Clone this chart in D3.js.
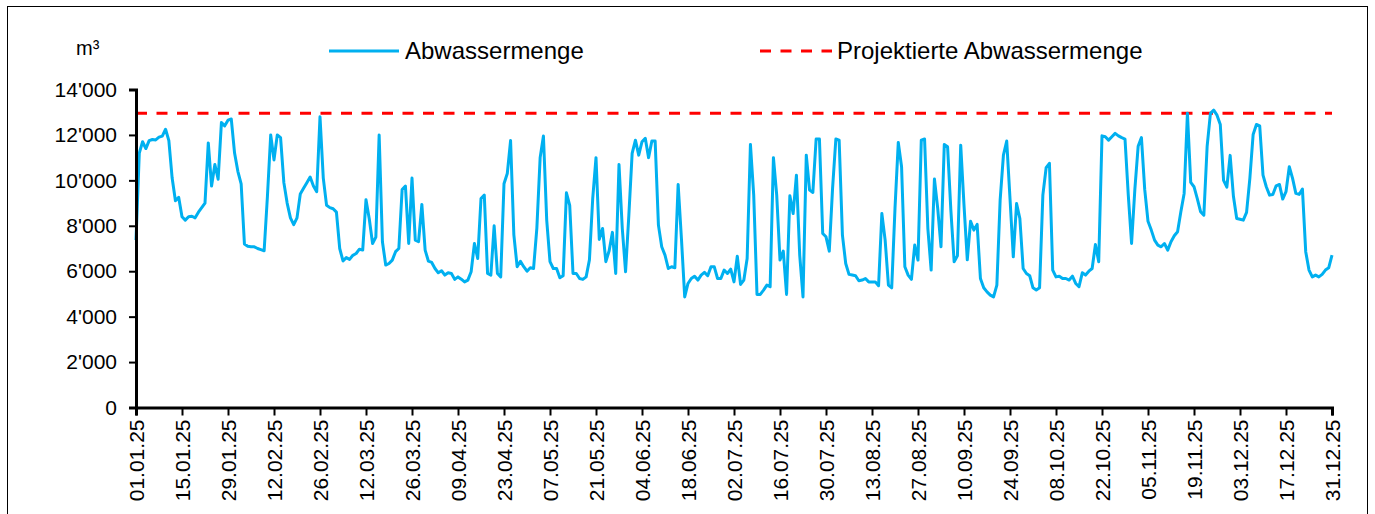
<!DOCTYPE html>
<html>
<head>
<meta charset="utf-8">
<script src="https://cdn.jsdelivr.net/npm/d3@7"></script>
<style>
  body { margin: 0; background: #fff; }
  svg { display: block; font-family: "Liberation Sans", Arial, sans-serif; }
</style>
</head>
<body>
<div id="chart"></div>
<script>
// Daily sewage volume 2025 (m³)
var startDate = "2025-01-01";
var values = [
  7370, 11200, 11700, 11400, 11750, 11800, 11780, 11900, 11950, 12250,
  11750, 10100, 9100, 9250, 8400, 8250, 8400, 8420, 8350, 8600,
  8800, 9000, 11650, 9750, 10700, 10050, 12550, 12400, 12650, 12700,
  11200, 10400, 9850, 7200, 7100, 7080, 7075, 7000, 6950, 6900,
  9300, 12000, 10900, 12000, 11880, 9900, 9000, 8350, 8050, 8350,
  9400, 9650, 9900, 10150, 9750, 9500, 12800, 10100, 8900, 8800,
  8750, 8600, 7000, 6450, 6600, 6520, 6700, 6780, 6970, 6930,
  9150, 8300, 7220, 7500, 12000, 7300, 6270, 6340, 6490, 6860,
  7000, 9600, 9750, 7220, 10100, 7370, 7300, 8940, 6930, 6440,
  6385, 6120, 5930, 6020, 5830, 5930, 5900, 5640, 5750, 5650,
  5530, 5610, 5975, 7220, 6560, 9200, 9350, 5900, 5830, 8000,
  5900, 5750, 9850, 10300, 11750, 7600, 6200, 6440, 6200, 6000,
  6150, 6120, 7900, 11000, 11950, 8250, 6420, 6120, 6120, 5710,
  5800, 9450, 8900, 5900, 5900, 5680, 5640, 5750, 6500, 9200,
  11000, 7400, 7880, 6420, 6900, 7710, 5900, 10700, 7880, 5975,
  8470, 11190, 11770, 11110, 11700, 11850, 11000, 11730, 11730, 8030,
  7075, 6710, 6120, 6195, 6150, 9820, 7440, 4870, 5460, 5680,
  5780, 5610, 5830, 5950, 5800, 6195, 6195, 5680, 5680, 6050,
  5900, 6090, 5530, 6660, 5420, 5610, 6560, 11580, 9350, 4980,
  4980, 5170, 5390, 5315, 11000, 9350, 6490, 6885, 4980, 9320,
  8540, 10230, 6710, 4870, 11110, 9570, 9470, 11820, 11820, 7660,
  7515, 6885, 9645, 11820, 11770, 7590, 6340, 5860, 5830, 5800,
  5580, 5610, 5680, 5530, 5530, 5530, 5360, 8540, 7370, 5390,
  5270, 8765, 11670, 10600, 6195, 5830, 5640, 7150, 6490, 11770,
  11820, 7880, 6050, 10060, 8765, 7075, 11580, 11480, 8690, 6415,
  6680, 11550, 8910, 6500, 8200, 7810, 8060, 5680, 5270, 5090,
  4950, 4870, 5390, 9130, 11110, 11730, 9200, 6635, 8980, 8320,
  6120, 5900, 5800, 5270, 5170, 5270, 9350, 10555, 10750, 6050,
  5750, 5780, 5680, 5680, 5610, 5780, 5460, 5315, 5930, 5830,
  6000, 6120, 7180, 6415, 11960, 11920, 11770, 11920, 12070, 11960,
  11880, 11820, 9350, 7220, 9600, 11500, 11880, 9600, 8200, 7810,
  7370, 7150, 7075, 7220, 6930, 7300, 7560, 7740, 8620, 9425,
  12950, 9910, 9720, 9200, 8620, 8470, 11500, 12950, 13090, 12870,
  12460, 10000, 9700, 11100, 9300, 8320, 8290, 8250, 8590, 10085,
  12020, 12460, 12400, 10230, 9720, 9350, 9380, 9760, 9820, 9175,
  9500, 10600, 10085, 9425, 9380, 9615, 6860, 6050, 5750, 5830,
  5750, 5860, 6050, 6150, 6710
];

// Projected sewage volume (constant)
var projected = 12950;

// Tick labels on the x axis (every 14 days)
var tickDates = [
  "01.01.25", "15.01.25", "29.01.25", "12.02.25", "26.02.25", "12.03.25",
  "26.03.25", "09.04.25", "23.04.25", "07.05.25", "21.05.25", "04.06.25",
  "18.06.25", "02.07.25", "16.07.25", "30.07.25", "13.08.25", "27.08.25",
  "10.09.25", "24.09.25", "08.10.25", "22.10.25", "05.11.25", "19.11.25",
  "03.12.25", "17.12.25", "31.12.25"
];
var yTicks = [0, 2000, 4000, 6000, 8000, 10000, 12000, 14000];

var seriesNames = ["Abwassermenge", "Projektierte Abwassermenge"];

var svgWidth = 1375;
var svgHeight = 514;

var parseDate = d3.utcParse("%d.%m.%y");
var formatDate = d3.utcFormat("%d.%m.%y");
var day0 = d3.utcParse("%Y-%m-%d")(startDate);

var data = values.map(function(v, i) {
  return { date: d3.utcDay.offset(day0, i), value: v };
});

var svg = d3.select("#chart")
  .append("svg")
  .attr("width", svgWidth)
  .attr("height", svgHeight);

svg.append("rect")
  .attr("width", svgWidth)
  .attr("height", svgHeight)
  .attr("fill", "#fff");

// outer frame (bottom edge is cut off in the picture)
svg.append("rect")
  .attr("x", 7.5)
  .attr("y", 6.5)
  .attr("width", 1360)
  .attr("height", 530)
  .attr("fill", "none")
  .attr("stroke", "#000")
  .attr("stroke-width", 1);

var xScale = d3.scaleUtc()
  .domain([data[0].date, data[data.length - 1].date])
  .range([136, 1332]);

var yScale = d3.scaleLinear()
  .domain([0, 14000])
  .range([407.5, 89.5]);

var fmt = d3.formatLocale({ decimal: ".", thousands: "'", grouping: [3], currency: ["", ""] }).format(",");

// projected line
svg.append("line")
  .attr("x1", xScale.range()[0])
  .attr("x2", xScale.range()[1])
  .attr("y1", yScale(projected))
  .attr("y2", yScale(projected))
  .attr("stroke", "#ff0000")
  .attr("stroke-width", 3)
  .attr("stroke-dasharray", "11,9.5");

// sewage line
var line = d3.line()
  .x(d => xScale(d.date))
  .y(d => yScale(d.value));

svg.append("path")
  .datum(data)
  .attr("d", line)
  .attr("fill", "none")
  .attr("stroke", "#00b0f0")
  .attr("stroke-width", 3)
  .attr("stroke-linejoin", "round");

// y axis
var leftAxis = d3.axisLeft(yScale)
  .tickValues(yTicks)
  .tickFormat(fmt)
  .tickSize(7)
  .tickPadding(12);

var yAxis = svg.append("g")
  .attr("transform", "translate(136,0)")
  .call(leftAxis);

// x axis
var bottomAxis = d3.axisBottom(xScale)
  .tickValues(tickDates.map(parseDate))
  .tickFormat(formatDate)
  .tickSize(8);

var xAxis = svg.append("g")
  .attr("transform", "translate(0,407.5)")
  .call(bottomAxis);

xAxis.selectAll("text")
  .attr("transform", "rotate(-90)")
  .attr("x", -12)
  .attr("y", 0)
  .attr("dy", "0.36em")
  .style("text-anchor", "end");

[xAxis, yAxis].forEach(function(g) {
  g.select(".domain").attr("stroke", "#000").attr("stroke-width", 3);
  g.selectAll(".tick line").attr("stroke", "#000").attr("stroke-width", 2);
  g.selectAll("text")
    .attr("fill", "#000")
    .style("font-size", "21px")
    .style("font-family", "'Liberation Sans', Arial, sans-serif");
});

// unit label
svg.append("text")
  .attr("x", 76)
  .attr("y", 55)
  .style("font-size", "20px")
  .text("m³");

// legend
var legend = svg.append("g");

legend.append("line")
  .attr("x1", 329).attr("x2", 399)
  .attr("y1", 51).attr("y2", 51)
  .attr("stroke", "#00b0f0")
  .attr("stroke-width", 3);

legend.append("text")
  .attr("x", 405)
  .attr("y", 51)
  .attr("dy", "0.35em")
  .style("font-size", "24px")
  .text(seriesNames[0]);

legend.append("line")
  .attr("x1", 760).attr("x2", 832)
  .attr("y1", 51).attr("y2", 51)
  .attr("stroke", "#ff0000")
  .attr("stroke-width", 3)
  .attr("stroke-dasharray", "11,9.5");

legend.append("text")
  .attr("x", 837)
  .attr("y", 51)
  .attr("dy", "0.35em")
  .style("font-size", "24px")
  .text(seriesNames[1]);
</script>
</body>
</html>
